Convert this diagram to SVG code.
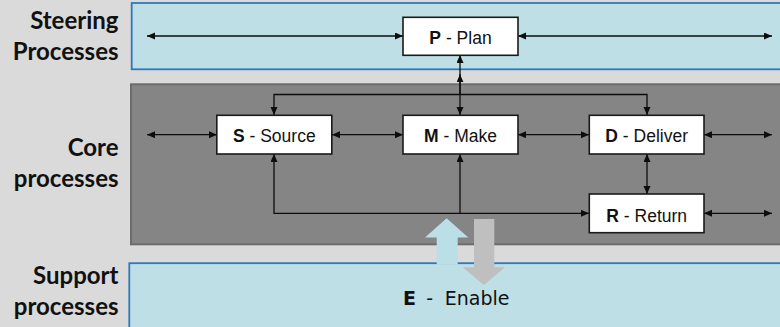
<svg xmlns="http://www.w3.org/2000/svg" width="780" height="327" viewBox="0 0 780 327">
  <defs>
    <style>
      .band-blue { fill: #bddfe5; stroke: #2f78bd; stroke-width: 1.8; }
      .band-core { fill: #858585; stroke: #6c6c6c; stroke-width: 2; }
      .lane { font-family: Lato, "Open Sans", "Liberation Sans", sans-serif; font-weight: bold; font-size: 24px; fill: #111; text-anchor: end; }
      .box { fill: #ffffff; stroke: #1a1a1a; stroke-width: 1.6; }
      .box-label { font-family: "Liberation Sans", Arial, sans-serif; font-size: 17.5px; fill: #111; text-anchor: middle; }
      .box-label .key { font-weight: bold; }
      .flow { fill: none; stroke: #0d0d0d; stroke-width: 1.3; marker-start: url(#head); marker-end: url(#head); }
      .flow-end { fill: none; stroke: #0d0d0d; stroke-width: 1.3; marker-end: url(#head); }
      .enable { font-family: "DejaVu Sans", Verdana, sans-serif; font-size: 19px; fill: #111; }
    </style>
    <marker id="head" markerUnits="userSpaceOnUse" markerWidth="9" markerHeight="8" refX="8" refY="3.5" orient="auto-start-reverse" viewBox="0 0 9 8">
      <path d="M0,0 L8,3.5 L0,7 Z" fill="#0d0d0d"/>
    </marker>
  </defs>

  <!-- page background -->
  <rect x="0" y="0" width="780" height="327" fill="#dadada"/>

  <!-- swim lanes -->
  <g id="lanes">
    <rect class="band-blue" x="131.7" y="3" width="660" height="66.3"/>
    <rect class="band-core" x="131" y="84.3" width="660" height="160"/>
    <rect class="band-blue" x="129.3" y="263.2" width="660" height="80"/>
  </g>

  <!-- lane titles -->
  <g id="lane-titles">
    <text class="lane" x="118.5" y="29">Steering</text>
    <text class="lane" x="118.5" y="60">Processes</text>
    <text class="lane" x="118.5" y="156">Core</text>
    <text class="lane" x="118.5" y="187">processes</text>
    <text class="lane" x="118.5" y="284">Support</text>
    <text class="lane" x="118.5" y="315">processes</text>
  </g>

  <!-- connectors -->
  <g id="connectors">
    <path class="flow" d="M147,36 H403"/>
    <path class="flow" d="M518,36 H772"/>
    <path class="flow" d="M147,134.7 H217"/>
    <path class="flow" d="M332,134.7 H403"/>
    <path class="flow" d="M518,134.7 H589"/>
    <path class="flow" d="M704,134.7 H772"/>
    <path class="flow" d="M704,213.3 H772"/>
    <path class="flow" d="M274,115 V94.5 H647 V115"/>
    <path class="flow" d="M460,55 V115"/>
    <path class="flow-end" d="M460,94.5 V74.3"/>
    <path class="flow" d="M274,154 V213.3 H589"/>
    <path class="flow-end" d="M460,213.3 V154"/>
    <path class="flow" d="M647,154 V194"/>
  </g>

  <!-- process nodes -->
  <g id="node-plan">
    <rect class="box" x="403" y="17.3" width="115" height="38"/>
    <text class="box-label" x="460.5" y="44.3"><tspan class="key">P</tspan> - Plan</text>
  </g>
  <g id="node-source">
    <rect class="box" x="216.8" y="115.3" width="115" height="38.7"/>
    <text class="box-label" x="274.3" y="142.3"><tspan class="key">S</tspan> - Source</text>
  </g>
  <g id="node-make">
    <rect class="box" x="403" y="115.3" width="115" height="38.7"/>
    <text class="box-label" x="460.5" y="142.3"><tspan class="key">M</tspan> - Make</text>
  </g>
  <g id="node-deliver">
    <rect class="box" x="589.3" y="115.3" width="114.7" height="38.7"/>
    <text class="box-label" x="646.7" y="142.3"><tspan class="key">D</tspan> - Deliver</text>
  </g>
  <g id="node-return">
    <rect class="box" x="589.3" y="194" width="114.7" height="38.7"/>
    <text class="box-label" x="646.7" y="221.6"><tspan class="key">R</tspan> - Return</text>
  </g>

  <!-- enable exchange arrows -->
  <g id="enable-arrows">
    <polygon points="446.6,218.3 468.3,237.5 457.7,237.5 457.7,264.5 436.7,264.5 436.7,237.5 425,237.5" fill="#bbdfe6"/>
    <polygon points="474,219 494.3,219 494.3,267.3 505,267.3 483.9,285 462.7,267.3 474,267.3" fill="#bfbfbf"/>
  </g>

  <g id="node-enable">
    <text class="enable" y="305"><tspan x="403" font-weight="bold">E</tspan><tspan x="426.3">-</tspan><tspan x="444.8">Enable</tspan></text>
  </g>
</svg>
